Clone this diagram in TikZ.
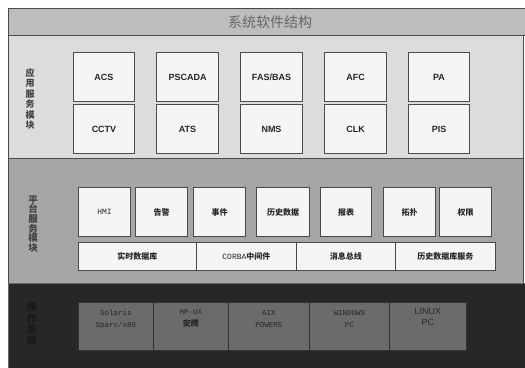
\documentclass[tikz,border=0pt]{standalone}
\usepackage{fontspec}
\setmainfont{Liberation Sans}
\newfontfamily\cjk{Noto Sans CJK SC}
\newfontfamily\monof{Liberation Mono}
\definecolor{titlebg}{HTML}{BDBDBD}
\definecolor{appbg}{HTML}{DCDCDC}
\definecolor{platbg}{HTML}{A6A6A6}
\definecolor{osbg}{HTML}{272727}
\definecolor{osbox}{HTML}{6B6B6B}
\definecolor{boxfill}{HTML}{F5F5F5}
\definecolor{edge}{HTML}{4A4A4A}
\tikzset{
  sect/.style={draw=edge, line width=1pt},
  appbox/.style={draw=edge, line width=1pt, fill=boxfill, anchor=north west,
    minimum width=61pt, minimum height=49pt, inner sep=0pt, font=\bfseries\fontsize{9}{10}\selectfont, text=black!85},
  platbox/.style={draw=edge, line width=1pt, fill=boxfill, anchor=north west,
    minimum width=52pt, minimum height=49pt, inner sep=0pt, font=\cjk\bfseries\fontsize{8}{9}\selectfont, text=black!85},
  busbox/.style={draw=edge, line width=0.8pt, fill=boxfill, anchor=north west,
    minimum height=28pt, inner sep=0pt, font=\cjk\bfseries\fontsize{8}{9}\selectfont, text=black!85},
  ossbox/.style={draw=black!80, line width=0.8pt, fill=osbox, anchor=north west,
    minimum height=48pt, inner sep=0pt},
  ostext/.style={anchor=north, align=center, inner sep=0pt, text=black!85,
    font=\monof\fontsize{7.5}{12}\selectfont},
  vlabel/.style={align=center, inner sep=0pt, font=\cjk\bfseries\fontsize{9}{10.4}\selectfont}
}
\begin{document}
\begin{tikzpicture}[x=1pt,y=-1pt]
\useasboundingbox (0,0) rectangle (525,367);
\fill[white] (0,0) rectangle (525,367);
% sections
\filldraw[sect, fill=titlebg] (8,8) rectangle (526,35);
\filldraw[sect, fill=appbg] (8,35) rectangle (523,158);
\filldraw[sect, fill=platbg] (8,158) rectangle (523,283);
\filldraw[sect, fill=osbg, draw=black!60] (8,283) rectangle (526,368);
\node[font=\cjk\fontsize{14}{15}\selectfont, text=black!60] (title) at (270,22) {系统软件结构};
% labels
\node[vlabel, text=black!75] (lapp) at (30,99) {应\\用\\服\\务\\模\\块};
\node[vlabel, text=black!75, font=\cjk\bfseries\fontsize{9.5}{9.6}\selectfont] (lplat) at (33,224) {平\\台\\服\\务\\模\\块};
\node[vlabel, text=black!90, font=\cjk\bfseries\fontsize{10}{11.2}\selectfont] (los) at (32,324) {操\\作\\系\\统};
% application boxes
\node[appbox] (acs) at (73,52) {ACS};
\node[appbox] (cctv) at (73,104) {CCTV};
\node[appbox, minimum width=62pt] (pscada) at (156,52) {PSCADA};
\node[appbox, minimum width=62pt] (ats) at (156,104) {ATS};
\node[appbox, minimum width=62pt] (fas) at (240,52) {FAS/BAS};
\node[appbox, minimum width=62pt] (nms) at (240,104) {NMS};
\node[appbox, minimum width=62pt] (afc) at (324,52) {AFC};
\node[appbox, minimum width=62pt] (clk) at (324,104) {CLK};
\node[appbox] (pa) at (408,52) {PA};
\node[appbox] (pis) at (408,104) {PIS};
% platform boxes
\node[platbox] (hmi) at (78,187) {\monof\mdseries HMI};
\node[platbox] (alarm) at (135,187) {告警};
\node[platbox] (event) at (193,187) {事件};
\node[platbox, minimum width=53pt] (hist) at (256,187) {历史数据};
\node[platbox, minimum width=51pt] (report) at (320,187) {报表};
\node[platbox] (topo) at (383,187) {拓扑};
\node[platbox] (perm) at (439,187) {权限};
\node[busbox, minimum width=118pt] (rtdb) at (78,242) {实时数据库};
\node[busbox, minimum width=100pt] (corba) at (196,242) {{\monof\mdseries CORBA}中间件};
\node[busbox, minimum width=99pt] (msg) at (296,242) {消息总线};
\node[busbox, minimum width=100pt] (hdb) at (395,242) {历史数据库服务};
% OS boxes
\node[ossbox, minimum width=75pt] (os1) at (78,302) {};
\node[ossbox, minimum width=75pt] (os2) at (153,302) {};
\node[ossbox, minimum width=81pt] (os3) at (228,302) {};
\node[ossbox, minimum width=80pt] (os4) at (309,302) {};
\node[ossbox, minimum width=77pt] (os5) at (389,302) {};
\node[ostext] (t1) at ([yshift=-8pt]os1.north) {Solaris\\Sparc/x86};
\node[ostext] (t2) at ([yshift=-7pt]os2.north) {HP-UX\\{\cjk\bfseries\fontsize{8}{10}\selectfont 安腾}};
\node[ostext] (t3) at ([yshift=-8pt]os3.north) {AIX\\POWER5};
\node[ostext] (t4) at ([yshift=-8pt]os4.north) {WINDOWS\\PC};
\node[ostext, font=\fontsize{9}{11}\selectfont] (t5) at ([yshift=-6pt]os5.north) {LINUX\\PC};
\end{tikzpicture}
\end{document}
